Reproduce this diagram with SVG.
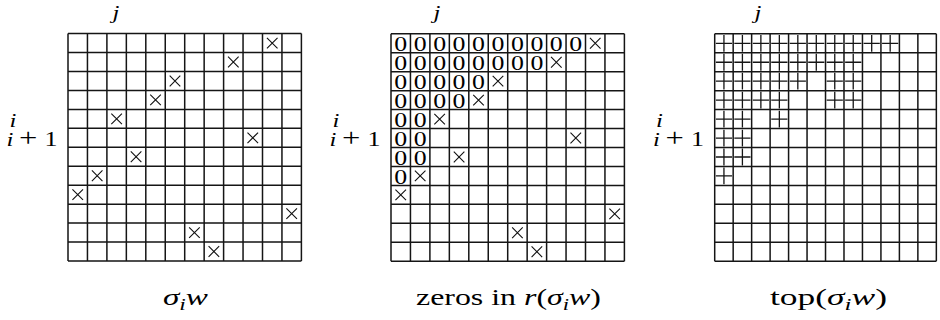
<svg xmlns="http://www.w3.org/2000/svg" xmlns:xlink="http://www.w3.org/1999/xlink" width="940" height="320" viewBox="0 0 940 320">
<style>
.grid{fill:none;stroke:#151515;stroke-width:1.5}
.mk{fill:none;stroke:#111;stroke-width:1.1}
.pl{fill:none;stroke:#151515;stroke-width:1.3}
.t{font-family:"Liberation Serif","Times New Roman",serif;fill:#000}
.it{font-style:italic}
.zero{font-family:"Liberation Serif","Times New Roman",serif;font-size:20.5px;text-anchor:middle;fill:#000}
.lab{font-size:19px}
.cap{font-size:24px}
</style>
<defs>
<path id="g12" d="M0 0V227.4M19.45 0V227.4M38.9 0V227.4M58.35 0V227.4M77.8 0V227.4M97.25 0V227.4M116.7 0V227.4M136.15 0V227.4M155.6 0V227.4M175.05 0V227.4M194.5 0V227.4M213.95 0V227.4M233.4 0V227.4M0 0H233.4M0 18.95H233.4M0 37.9H233.4M0 56.85H233.4M0 75.8H233.4M0 94.75H233.4M0 113.7H233.4M0 132.65H233.4M0 151.6H233.4M0 170.55H233.4M0 189.5H233.4M0 208.45H233.4M0 227.4H233.4"/>
<path id="g3" d="M0 0V227.4M18.47 0V227.4M36.94 0V227.4M55.41 0V227.4M73.88 0V227.4M92.35 0V227.4M110.82 0V227.4M129.29 0V227.4M147.76 0V227.4M166.23 0V227.4M184.7 0V227.4M203.17 0V227.4M221.64 0V227.4M0 0H221.64M0 18.95H221.64M0 37.9H221.64M0 56.85H221.64M0 75.8H221.64M0 94.75H221.64M0 113.7H221.64M0 132.65H221.64M0 151.6H221.64M0 170.55H221.64M0 189.5H221.64M0 208.45H221.64M0 227.4H221.64"/>
<path id="x" d="M-5.3 -5.3L5.3 5.3M5.3 -5.3L-5.3 5.3"/>
<path id="p" d="M-8.1 0H8.1M0 -8.4V8.4"/>
<g id="xs">
<use href="#x" x="204.23" y="9.48"/>
<use href="#x" x="165.33" y="28.43"/>
<use href="#x" x="106.98" y="47.38"/>
<use href="#x" x="87.53" y="66.33"/>
<use href="#x" x="48.63" y="85.28"/>
<use href="#x" x="184.78" y="104.23"/>
<use href="#x" x="68.08" y="123.18"/>
<use href="#x" x="29.18" y="142.13"/>
<use href="#x" x="9.73" y="161.08"/>
<use href="#x" x="223.68" y="180.03"/>
<use href="#x" x="126.43" y="198.98"/>
<use href="#x" x="145.88" y="217.93"/>
</g>
</defs>

<g id="grid-sigma">
<g transform="translate(68,33.6)">
<use href="#g12" class="grid"/>
<use href="#xs" class="mk"/>
</g>
<text class="t lab it" transform="translate(116,19) scale(1.3,1)" text-anchor="middle">j</text>
<text class="t lab it" transform="translate(9.5,127) scale(1.3,1)">i</text>
<text class="t lab" transform="translate(6.5,146) scale(1.3,1)"><tspan class="it">i</tspan><tspan x="9.6" font-size="25">+</tspan><tspan x="29.3" font-size="20">1</tspan></text>
<text class="t cap" x="163" y="304.5" textLength="45" lengthAdjust="spacingAndGlyphs"><tspan class="it">σ</tspan><tspan class="it" font-size="17" dy="5">i</tspan><tspan class="it" dy="-5">w</tspan></text>
</g>

<g id="grid-zeros">
<g transform="translate(391,33.8)">
<use href="#g12" class="grid"/>
<use href="#xs" class="mk"/>
</g>
<g transform="translate(391,33.8) scale(1.26,1)">
<text class="zero" x="7.72" y="17.4">0</text><text class="zero" x="23.15" y="17.4">0</text><text class="zero" x="38.59" y="17.4">0</text><text class="zero" x="54.03" y="17.4">0</text><text class="zero" x="69.46" y="17.4">0</text><text class="zero" x="84.9" y="17.4">0</text><text class="zero" x="100.34" y="17.4">0</text><text class="zero" x="115.77" y="17.4">0</text><text class="zero" x="131.21" y="17.4">0</text><text class="zero" x="146.65" y="17.4">0</text>
<text class="zero" x="7.72" y="36.35">0</text><text class="zero" x="23.15" y="36.35">0</text><text class="zero" x="38.59" y="36.35">0</text><text class="zero" x="54.03" y="36.35">0</text><text class="zero" x="69.46" y="36.35">0</text><text class="zero" x="84.9" y="36.35">0</text><text class="zero" x="100.34" y="36.35">0</text><text class="zero" x="115.77" y="36.35">0</text>
<text class="zero" x="7.72" y="55.3">0</text><text class="zero" x="23.15" y="55.3">0</text><text class="zero" x="38.59" y="55.3">0</text><text class="zero" x="54.03" y="55.3">0</text><text class="zero" x="69.46" y="55.3">0</text>
<text class="zero" x="7.72" y="74.25">0</text><text class="zero" x="23.15" y="74.25">0</text><text class="zero" x="38.59" y="74.25">0</text><text class="zero" x="54.03" y="74.25">0</text>
<text class="zero" x="7.72" y="93.2">0</text><text class="zero" x="23.15" y="93.2">0</text>
<text class="zero" x="7.72" y="112.15">0</text><text class="zero" x="23.15" y="112.15">0</text>
<text class="zero" x="7.72" y="131.1">0</text><text class="zero" x="23.15" y="131.1">0</text>
<text class="zero" x="7.72" y="150.05">0</text>
</g>
<text class="t lab it" transform="translate(437,19) scale(1.3,1)" text-anchor="middle">j</text>
<text class="t lab it" transform="translate(332.5,127) scale(1.3,1)">i</text>
<text class="t lab" transform="translate(329.5,146) scale(1.3,1)"><tspan class="it">i</tspan><tspan x="9.6" font-size="25">+</tspan><tspan x="29.3" font-size="20">1</tspan></text>
<text class="t cap" x="416" y="304.5" textLength="185" lengthAdjust="spacingAndGlyphs">zeros in <tspan class="it">r</tspan>(<tspan class="it">σ</tspan><tspan class="it" font-size="17" dy="5">i</tspan><tspan class="it" dy="-5">w</tspan>)</text>
</g>

<g id="grid-top">
<g transform="translate(714.7,33.8)">
<use href="#g3" class="grid"/>
<g class="pl">
<use href="#p" x="9.24" y="9.48"/><use href="#p" x="27.71" y="9.48"/><use href="#p" x="46.18" y="9.48"/><use href="#p" x="64.65" y="9.48"/><use href="#p" x="83.12" y="9.48"/><use href="#p" x="101.59" y="9.48"/><use href="#p" x="120.06" y="9.48"/><use href="#p" x="138.53" y="9.48"/><use href="#p" x="157" y="9.48"/><use href="#p" x="175.47" y="9.48"/>
<use href="#p" x="9.24" y="28.43"/><use href="#p" x="27.71" y="28.43"/><use href="#p" x="46.18" y="28.43"/><use href="#p" x="64.65" y="28.43"/><use href="#p" x="83.12" y="28.43"/><use href="#p" x="101.59" y="28.43"/><use href="#p" x="120.06" y="28.43"/><use href="#p" x="138.53" y="28.43"/>
<use href="#p" x="9.24" y="47.38"/><use href="#p" x="27.71" y="47.38"/><use href="#p" x="46.18" y="47.38"/><use href="#p" x="64.65" y="47.38"/><use href="#p" x="83.12" y="47.38"/><use href="#p" x="120.06" y="47.38"/><use href="#p" x="138.53" y="47.38"/>
<use href="#p" x="9.24" y="66.33"/><use href="#p" x="27.71" y="66.33"/><use href="#p" x="46.18" y="66.33"/><use href="#p" x="64.65" y="66.33"/><use href="#p" x="120.06" y="66.33"/><use href="#p" x="138.53" y="66.33"/>
<use href="#p" x="9.24" y="85.28"/><use href="#p" x="27.71" y="85.28"/><use href="#p" x="64.65" y="85.28"/>
<use href="#p" x="9.24" y="104.23"/><use href="#p" x="27.71" y="104.23"/>
<use href="#p" x="9.24" y="123.18"/><use href="#p" x="27.71" y="123.18"/>
<use href="#p" x="9.24" y="142.13"/>
</g>
</g>
<text class="t lab it" transform="translate(758,19) scale(1.3,1)" text-anchor="middle">j</text>
<text class="t lab it" transform="translate(656,127) scale(1.3,1)">i</text>
<text class="t lab" transform="translate(653,146) scale(1.3,1)"><tspan class="it">i</tspan><tspan x="9.6" font-size="25">+</tspan><tspan x="29.3" font-size="20">1</tspan></text>
<text class="t cap" x="770" y="304.5" textLength="117" lengthAdjust="spacingAndGlyphs">top(<tspan class="it">σ</tspan><tspan class="it" font-size="17" dy="5">i</tspan><tspan class="it" dy="-5">w</tspan>)</text>
</g>
</svg>
